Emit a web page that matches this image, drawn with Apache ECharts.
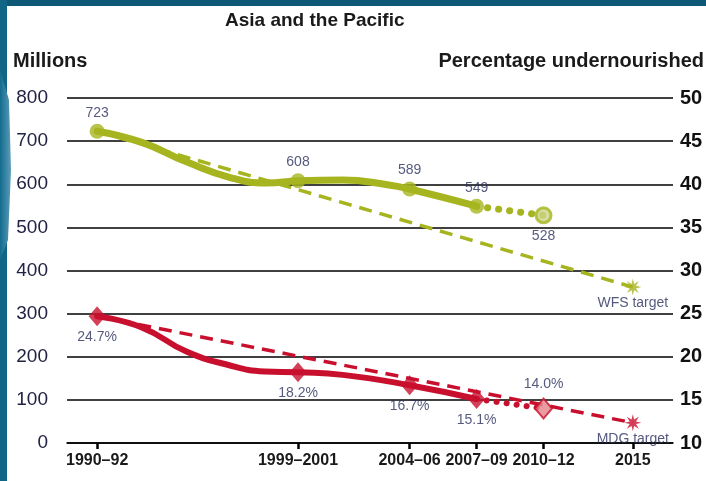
<!DOCTYPE html>
<html>
<head>
<meta charset="utf-8">
<script src="https://cdn.jsdelivr.net/npm/echarts@6/dist/echarts.min.js"></script>
<style>
html, body { margin: 0; padding: 0; background: #fff; }
#chart { width: 706px; height: 481px; }
</style>
</head>
<body>
<div id="chart"></div>
<script>
var years = [1991, 2000, 2005, 2008, 2011, 2015];
var yearLabels = ['1990–92', '1999–2001', '2004–06', '2007–09', '2010–12', '2015'];
var millions = [723, 608, 589, 549, 528];
var percent = [24.7, 18.2, 16.7, 15.1, 14.0];
// shape of the smoothed curves between the marked periods
var greenTraceYears = [1991, 1993, 1995, 1997, 1998.6, 2000, 2002, 2004, 2005, 2008];
var greenTraceValues = [723, 697, 652, 615, 603, 608, 610, 599, 589, 549];
var redTraceYears = [1991, 1993, 1995, 1996.8, 1998.5, 2000, 2002, 2005, 2008];
var redTraceValues = [24.7, 23.4, 20.6, 19.1, 18.3, 18.2, 17.9, 16.7, 15.1];
var wfsTarget = 361.5;
var mdgTarget = 12.35;

var GREEN = '#a6b51f';
var GREEN_LIGHT = '#cdd486';
var RED = '#c8102e';
var RED_LIGHT = '#e3848c';
var TXT = '#2b2f5c';
var FONT = '"Liberation Sans", Arial, sans-serif';

// 8 point burst for the target markers
function burst() {
    var pts = [];
    for (var i = 0; i < 16; i++) {
        var r = i % 2 ? 4 : 10;
        var a = Math.PI * i / 8;
        pts.push((10 + r * Math.cos(a)).toFixed(2) + ' ' + (10 + r * Math.sin(a)).toFixed(2));
    }
    return 'path://M' + pts.join(' L') + ' Z';
}

function zip(xs, ys) {
    return xs.map(function (x, i) { return [x, ys[i]]; });
}

var last = millions.length - 1;

var greenMarks = millions.map(function (v, i) {
    var projected = i === last;
    return {
        value: [years[i], v],
        itemStyle: { color: projected ? GREEN_LIGHT : GREEN, borderColor: GREEN, borderWidth: projected ? 3 : 0 },
        label: { position: projected ? 'bottom' : 'top', distance: projected ? 5 : 4 }
    };
});
var redMarks = percent.map(function (v, i) {
    var projected = i === last;
    return {
        value: [years[i], v],
        itemStyle: { color: projected ? RED_LIGHT : RED, borderColor: RED, borderWidth: projected ? 2 : 0 },
        label: { position: projected ? 'top' : 'bottom', distance: projected ? 6 : 4 }
    };
});

var myChart = echarts.init(document.getElementById('chart'));

var option = {
    animation: false,
    backgroundColor: '#fff',
    textStyle: { fontFamily: FONT },
    graphic: [
        { type: 'rect', shape: { x: 0, y: 0, width: 706, height: 6 }, style: { fill: '#0d5877' }, z: 10 },
        { type: 'rect', shape: { x: 0, y: 0, width: 7, height: 481 }, style: { fill: '#106684' }, z: 10 },
        { type: 'polygon', shape: { points: [[0, 70], [9, 100], [11, 170], [8, 240], [0, 260]] },
          style: { fill: new echarts.graphic.LinearGradient(0, 0, 1, 0, [{ offset: 0, color: '#126c8e' }, { offset: 1, color: '#5d9cb8' }]) }, z: 10 },
        { type: 'text', left: 225, top: 11, style: { text: 'Asia and the Pacific', font: 'bold 19px ' + FONT, fill: '#1a1a1a' } },
        { type: 'text', left: 13, top: 51, style: { text: 'Millions', font: 'bold 20px ' + FONT, fill: '#1a1a1a' } },
        { type: 'text', right: 2, top: 51, style: { text: 'Percentage undernourished', font: 'bold 20px ' + FONT, fill: '#1a1a1a' } }
    ],
    grid: { left: 67, right: 33, top: 98, bottom: 38 },
    xAxis: {
        type: 'value',
        min: 1989.65,
        max: 2016.8,
        splitLine: { show: false },
        axisLine: { show: true, lineStyle: { color: '#000', width: 1.5 } },
        axisTick: { show: true, customValues: years, length: 6, lineStyle: { color: '#000', width: 2.5 } },
        axisLabel: {
            customValues: years,
            margin: 10,
            fontSize: 16,
            fontWeight: 'bold',
            color: '#1a1a1a',
            formatter: function (v) {
                var i = years.indexOf(v);
                return i < 0 ? '' : yearLabels[i];
            }
        }
    },
    yAxis: [{
        type: 'value',
        min: 0,
        max: 800,
        interval: 100,
        axisLine: { show: false },
        axisTick: { show: false },
        splitLine: { lineStyle: { color: '#000', width: 1.5 } },
        axisLabel: { margin: 19, fontSize: 19, color: '#222244' }
    }, {
        type: 'value',
        min: 10,
        max: 50,
        interval: 5,
        axisLine: { show: false },
        axisTick: { show: false },
        splitLine: { show: false },
        axisLabel: { margin: 7, fontSize: 20, fontWeight: 'bold', color: '#111' }
    }],
    series: [
        {
            name: 'WFS path',
            type: 'line',
            data: [[years[0], millions[0]], [years[5], wfsTarget]],
            symbol: 'none',
            lineStyle: { color: GREEN, width: 3.5, type: [13, 8] },
            z: 2
        },
        {
            name: 'MDG path',
            type: 'line',
            yAxisIndex: 1,
            data: [[years[0], percent[0]], [years[5], mdgTarget]],
            symbol: 'none',
            lineStyle: { color: RED, width: 3.5, type: [13, 8] },
            z: 2
        },
        {
            name: 'Millions',
            type: 'line',
            data: zip(greenTraceYears, greenTraceValues),
            smooth: 0.5,
            showSymbol: false,
            lineStyle: { color: GREEN, width: 7, cap: 'round' },
            z: 3
        },
        {
            name: 'Millions projected',
            type: 'line',
            data: [[years[3], millions[3]], [years[4], millions[4]]],
            showSymbol: false,
            lineStyle: { color: GREEN, width: 7, type: [0.1, 11], cap: 'round' },
            z: 3
        },
        {
            name: 'Percent',
            type: 'line',
            yAxisIndex: 1,
            data: zip(redTraceYears, redTraceValues),
            smooth: 0.5,
            showSymbol: false,
            lineStyle: { color: RED, width: 6, cap: 'round' },
            z: 3
        },
        {
            name: 'Percent projected',
            type: 'line',
            yAxisIndex: 1,
            data: [[years[3], percent[3]], [years[4], percent[4]]],
            showSymbol: false,
            lineStyle: { color: RED, width: 6, type: [0.1, 10], cap: 'round' },
            z: 3
        },
        {
            name: 'Millions marks',
            type: 'scatter',
            data: greenMarks,
            symbol: 'circle',
            symbolSize: 15,
            label: { show: true, fontSize: 14, color: TXT, formatter: function (p) { return p.value[1]; } },
            z: 5
        },
        {
            name: 'Percent marks',
            type: 'scatter',
            yAxisIndex: 1,
            data: redMarks,
            symbol: 'diamond',
            symbolSize: [17, 20],
            label: { show: true, fontSize: 14, color: TXT, formatter: function (p) { return p.value[1].toFixed(1) + '%'; } },
            z: 5
        },
        {
            name: 'WFS target',
            type: 'scatter',
            data: [[years[5], wfsTarget]],
            symbol: burst(),
            symbolSize: 17,
            itemStyle: { color: GREEN },
            label: { show: true, position: 'bottom', distance: 1, fontSize: 14, color: TXT, formatter: 'WFS target' },
            z: 5
        },
        {
            name: 'MDG target',
            type: 'scatter',
            yAxisIndex: 1,
            data: [[years[5], mdgTarget]],
            symbol: burst(),
            symbolSize: 17,
            itemStyle: { color: RED },
            label: { show: true, position: 'bottom', distance: 1, fontSize: 14, color: TXT, formatter: 'MDG target' },
            z: 5
        }
    ]
};

myChart.setOption(option);
</script>
</body>
</html>
